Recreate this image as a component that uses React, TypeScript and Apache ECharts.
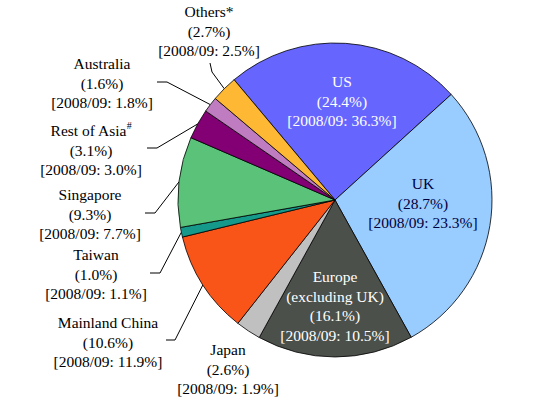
import React, { useEffect, useRef } from "react";
import * as echarts from "echarts";

const categories = [
  "US",
  "UK",
  "Europe\n(excluding UK)",
  "Japan",
  "Mainland China",
  "Taiwan",
  "Singapore",
  "Rest of Asia#",
  "Australia",
  "Others*",
];
const shares = [24.4, 28.7, 16.1, 2.6, 10.6, 1.0, 9.3, 3.1, 1.6, 2.7];
const prior = [36.3, 23.3, 10.5, 1.9, 11.9, 1.1, 7.7, 3.0, 1.8, 2.5];
const priorLabel = "2008/09";

const colors = [
  "#6666ff",
  "#99ccff",
  "#4b504b",
  "#c0c0c0",
  "#fa5519",
  "#14998a",
  "#5bc27a",
  "#820074",
  "#c07cc0",
  "#ffb833",
];
const labelColors = ["#ffffff", "#000040", "#ffffff", "#000", "#000", "#000", "#000", "#000", "#000", "#000"];

const FONT = "'Liberation Serif', 'Times New Roman', Times, serif";

// label layout: center of text block, plus elbow/end of guide line (null = no line)
const labelPos: { x: number; y: number; line: number[][] | null }[] = [
  { x: 342, y: 101, line: null },
  { x: 423, y: 203, line: null },
  { x: 335, y: 306, line: null },
  { x: 228, y: 369, line: null },
  { x: 108, y: 342, line: [[175, 340], [166, 340]] },
  { x: 96, y: 274, line: [[160, 273], [150, 273]] },
  { x: 90, y: 214, line: [[155, 213], [145, 213]] },
  { x: 91, y: 150, line: [[157, 148], [147, 148]] },
  { x: 102, y: 83, line: [[167, 82], [157, 82]] },
  { x: 209, y: 31, line: [[212, 72], [210, 63]] },
];

export default function App() {
  const ref = useRef<HTMLDivElement>(null);
  useEffect(() => {
    if (!ref.current) return;
    const chart = echarts.init(ref.current, undefined, { renderer: "svg" });
    const data = categories.map((name, i) => ({
      name,
      value: shares[i],
      itemStyle: { color: colors[i] },
      label: { color: labelColors[i] },
      labelLine: { show: labelPos[i].line !== null },
    }));
    chart.setOption({
      animation: false,
      backgroundColor: "#ffffff",
      textStyle: { fontFamily: FONT },
      series: [
        {
          type: "pie",
          center: [335, 200],
          radius: 157,
          startAngle: 130,
          clockwise: true,
          avoidLabelOverlap: false,
          itemStyle: { borderColor: "#000", borderWidth: 0.8 },
          emphasis: { disabled: true },
          label: {
            show: true,
            position: "outside",
            fontFamily: FONT,
            fontSize: 15.5,
            lineHeight: 19.5,
            align: "center",
            formatter: (p: any) => {
              const i = p.dataIndex;
              const nm = categories[i].replace("#", "{sup|#}");
              return `${nm}\n(${shares[i].toFixed(1)}%)\n[${priorLabel}: ${prior[i].toFixed(1)}%]`;
            },
            rich: {
              sup: {
                fontFamily: FONT,
                fontSize: 10,
                lineHeight: 10,
                verticalAlign: "top",
              },
            },
          },
          labelLine: {
            show: true,
            lineStyle: { color: "#000", width: 1 },
            smooth: false,
          },
          labelLayout: (params: any) => {
            const lp = labelPos[params.dataIndex];
            const res: any = {
              x: lp.x,
              y: lp.y,
              align: "center",
              verticalAlign: "middle",
            };
            if (lp.line && params.labelLinePoints) {
              res.labelLinePoints = [params.labelLinePoints[0], lp.line[0], lp.line[1]];
            }
            return res;
          },
          data,
        },
      ],
    });
    return () => chart.dispose();
  }, []);
  return (
    <div
      ref={ref}
      style={{ position: "fixed", left: 0, top: 0, width: 541, height: 399 }}
    />
  );
}
